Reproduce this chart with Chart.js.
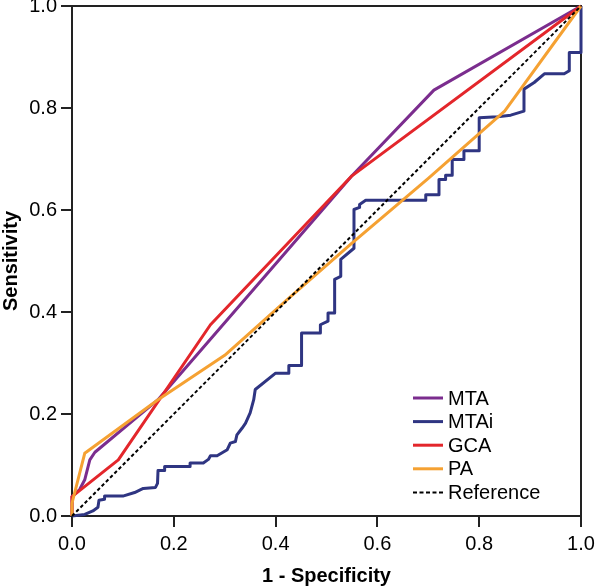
<!DOCTYPE html>
<html>
<head>
<meta charset="utf-8">
<title>ROC curves</title>
<script src="https://cdn.jsdelivr.net/npm/chart.js@4.4.1/dist/chart.umd.min.js"></script>
<style>
  body { margin: 0; background: #fff; }
  .chart-box { width: 596px; height: 586px; }
</style>
</head>
<body>
<div class="chart-box"><canvas id="rocChart" width="596" height="586"></canvas></div>
<script>
// values
const axisTicks = [0, 0.2, 0.4, 0.6, 0.8, 1.0]
const seriesNames = ['MTA', 'MTAi', 'GCA', 'PA', 'Reference']

const mtaX = [0, 0, 0.015, 0.025, 0.035, 0.045, 0.169, 0.55, 0.711, 1]
const mtaY = [0, 0.038, 0.052, 0.071, 0.110, 0.125, 0.228, 0.667, 0.835, 1]

const mtaiX = [0, 0.025, 0.041, 0.051, 0.053, 0.064, 0.064, 0.100, 0.123, 0.140, 0.164, 0.168, 0.169, 0.182, 0.182,
  0.232, 0.232, 0.258, 0.268, 0.272, 0.285, 0.305, 0.311, 0.321, 0.324, 0.334, 0.341, 0.350, 0.357, 0.360,
  0.400, 0.426, 0.426, 0.451, 0.451, 0.488, 0.488, 0.503, 0.503, 0.516, 0.516, 0.528, 0.528, 0.554, 0.554,
  0.565, 0.565, 0.577, 0.695, 0.695, 0.721, 0.721, 0.734, 0.734, 0.747, 0.747, 0.770, 0.770, 0.800, 0.800,
  0.836, 0.862, 0.888, 0.888, 0.908, 0.928, 0.967, 0.977, 0.977, 1, 1]
const mtaiY = [0, 0.003, 0.010, 0.017, 0.031, 0.033, 0.039, 0.039, 0.046, 0.054, 0.056, 0.064, 0.089, 0.089, 0.097,
  0.097, 0.104, 0.104, 0.111, 0.118, 0.118, 0.130, 0.143, 0.146, 0.159, 0.172, 0.182, 0.202, 0.228, 0.248,
  0.280, 0.280, 0.295, 0.295, 0.359, 0.359, 0.375, 0.382, 0.398, 0.398, 0.464, 0.470, 0.503, 0.525, 0.601,
  0.605, 0.611, 0.619, 0.619, 0.630, 0.630, 0.660, 0.660, 0.668, 0.668, 0.699, 0.699, 0.716, 0.716, 0.781,
  0.783, 0.786, 0.794, 0.837, 0.850, 0.867, 0.867, 0.873, 0.909, 0.909, 1]

const gcaX = [0, 0, 0.091, 0.272, 0.55, 1]
const gcaY = [0, 0.038, 0.110, 0.375, 0.667, 1]

const paX = [0, 0, 0.025, 0.169, 0.30, 0.42, 0.55, 0.70, 0.85, 1]
const paY = [0, 0.025, 0.123, 0.228, 0.315, 0.422, 0.535, 0.662, 0.794, 1]

const refX = [0, 1]
const refY = [0, 1]

function toPoints(xs, ys) {
  return xs.map((x, i) => ({ x: x, y: ys[i] }))
}

Chart.defaults.font.family = '"Liberation Sans", Arial, Helvetica, sans-serif'
Chart.defaults.color = '#000'

// box round the plot area, under the curves
const plotFrame = {
  id: 'plotFrame',
  beforeDatasetsDraw(chart) {
    const { ctx, chartArea } = chart
    ctx.save()
    ctx.strokeStyle = '#222'
    ctx.lineWidth = 2
    ctx.strokeRect(chartArea.left, chartArea.top, chartArea.right - chartArea.left, chartArea.bottom - chartArea.top)
    ctx.restore()
  }
}

// legend sits inside the plot, bottom right
const innerLegend = {
  id: 'innerLegend',
  afterDatasetsDraw(chart) {
    const { ctx, chartArea } = chart
    const x0 = chartArea.right - 168
    let y = chartArea.bottom - 118
    ctx.save()
    ctx.font = '20px "Liberation Sans", Arial, sans-serif'
    ctx.textBaseline = 'middle'
    ctx.fillStyle = '#000'
    chart.data.datasets.forEach(ds => {
      ctx.beginPath()
      ctx.strokeStyle = ds.borderColor
      ctx.lineWidth = ds.borderDash ? 2 : 3
      ctx.setLineDash(ds.borderDash ? [4, 2.5] : [])
      ctx.moveTo(x0, y)
      ctx.lineTo(x0 + 30, y)
      ctx.stroke()
      ctx.setLineDash([])
      ctx.fillText(ds.label, x0 + 35, y + 1)
      y += 23.6
    })
    ctx.restore()
  }
}

const data = {
  datasets: [{
    label: seriesNames[0],
    data: toPoints(mtaX, mtaY),
    borderColor: '#7b2d8e',
    order: 3
  }, {
    label: seriesNames[1],
    data: toPoints(mtaiX, mtaiY),
    borderColor: '#2f3582',
    order: 4
  }, {
    label: seriesNames[2],
    data: toPoints(gcaX, gcaY),
    borderColor: '#e3262b',
    order: 2
  }, {
    label: seriesNames[3],
    data: toPoints(paX, paY),
    borderColor: '#f5a132',
    order: 1
  }, {
    label: seriesNames[4],
    data: toPoints(refX, refY),
    borderColor: '#000',
    borderWidth: 2,
    borderDash: [3.5, 2.5],
    order: 0
  }]
}

data.datasets.forEach(ds => {
  if (!ds.borderWidth) ds.borderWidth = 3
  ds.pointRadius = 0
  ds.tension = 0
  ds.fill = false
  ds.clip = false
  ds.borderJoinStyle = 'round'
})

const tickFormat = v => v.toFixed(1)

const options = {
  responsive: false,
  animation: false,
  layout: { padding: { left: 0, top: 6, right: 15, bottom: 0 } },
  plugins: { legend: { display: false }, tooltip: { enabled: false } },
  scales: {
    x: {
      type: 'linear',
      min: 0,
      max: 1,
      afterBuildTicks: s => { s.ticks = axisTicks.map(v => ({ value: v })) },
      afterFit: s => { s.height = 70; s.paddingLeft = 0; s.paddingRight = 0 },
      grid: { drawOnChartArea: false, tickLength: 11, color: '#222', lineWidth: 2 },
      border: { display: false },
      ticks: { padding: 5, autoSkip: false, maxRotation: 0, font: { size: 20 }, callback: tickFormat },
      title: { display: true, text: '1 - Specificity', font: { size: 20, weight: 'bold', lineHeight: 1 }, padding: { top: 0, bottom: 0 } }
    },
    y: {
      type: 'linear',
      min: 0,
      max: 1,
      afterBuildTicks: s => { s.ticks = axisTicks.map(v => ({ value: v })) },
      afterFit: s => { s.width = 72; s.paddingTop = 0; s.paddingBottom = 0 },
      grid: { drawOnChartArea: false, tickLength: 11, color: '#222', lineWidth: 2 },
      border: { display: false },
      ticks: { padding: 4, autoSkip: false, font: { size: 20 }, callback: tickFormat },
      title: { display: true, text: 'Sensitivity', font: { size: 20, weight: 'bold', lineHeight: 1 }, padding: { top: 1, bottom: 0 } }
    }
  }
}

const ctx = document.getElementById('rocChart').getContext('2d')
const rocChart = new Chart(ctx, {
  type: 'line',
  data: data,
  options: options,
  plugins: [plotFrame, innerLegend]
})
</script>
</body>
</html>
